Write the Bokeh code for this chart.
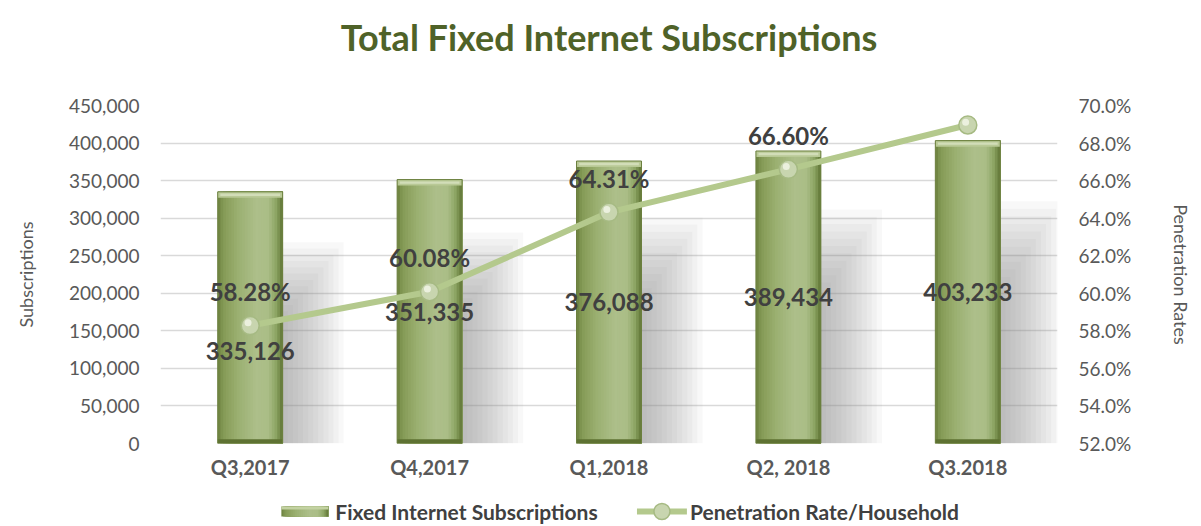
import numpy as np
from bokeh.plotting import figure
from bokeh.layouts import column
from bokeh.models import (Range1d, LinearAxis, FixedTicker, NumeralTickFormatter,
                          PrintfTickFormatter, ColumnDataSource)
from bokeh.core.properties import value
from bokeh.embed import file_html
from bokeh.resources import INLINE

title_text = "Total Fixed Internet Subscriptions"
categories = ["Q3,2017", "Q4,2017", "Q1,2018", "Q2, 2018", "Q3.2018"]
subscriptions = [335126, 351335, 376088, 389434, 403233]
penetration = [58.28, 60.08, 64.31, 66.60, 68.96]
sub_labels = ["335,126", "351,335", "376,088", "389,434", "403,233"]
pct_labels = ["58.28%", "60.08%", "64.31%", "66.60%", "68.96%"]
left_ticks = list(range(0, 450001, 50000))
right_ticks = [52, 54, 56, 58, 60, 62, 64, 66, 68, 70]
legend_labels = ["Fixed Internet Subscriptions", "Penetration Rate/Household"]

FONT = "Lato"
TXT = "#404040"
x = np.arange(len(categories))

W = 1195
FL, FR = 160, 1058          # frame left / right in page pixels

def strip_fig(h):
    f = figure(width=W, height=h, output_backend="svg", toolbar_location=None,
               x_range=Range1d(FL, FR), y_range=Range1d(0, h), min_border=0)
    f.axis.visible = False
    f.grid.visible = False
    f.outline_line_color = None
    f.background_fill_color = "white"
    f.border_fill_color = "white"
    return f

# ---- title strip
TH = 66
tf = strip_fig(TH)
tf.text(x=[(FL + FR) / 2], y=[TH - 36], text=[title_text], text_align="center",
        text_baseline="middle", text_font=value(FONT), text_font_size="36px",
        text_font_style="bold", text_color="#4f6228")

# ---- main chart
p = figure(width=W, height=432, output_backend="svg", toolbar_location=None,
           x_range=Range1d(-0.5, 4.5), y_range=Range1d(0, 450000),
           min_border_left=FL, min_border_right=W - FR, min_border_top=39, min_border_bottom=55)
p.outline_line_color = None
p.background_fill_color = "white"
p.border_fill_color = "white"

p.extra_y_ranges = {"pct": Range1d(52, 70)}

p.xgrid.visible = False
p.ygrid.ticker = FixedTicker(ticks=left_ticks)
p.ygrid.grid_line_color = "#d9d9d9"
p.ygrid.grid_line_width = 1.5

ax = p.yaxis[0]
ax.ticker = FixedTicker(ticks=left_ticks)
ax.formatter = NumeralTickFormatter(format="0,0")
ax.axis_line_color = None
ax.major_tick_line_color = None
ax.minor_tick_line_color = None
ax.major_label_text_font = FONT
ax.major_label_text_font_size = "19px"
ax.major_label_text_color = "#595959"
ax.major_label_standoff = 15
ax.axis_label = "Subscriptions"
ax.axis_label_text_font = FONT
ax.axis_label_text_font_size = "18px"
ax.axis_label_text_font_style = "normal"
ax.axis_label_text_color = "#595959"
ax.axis_label_standoff = 29

rax = LinearAxis(y_range_name="pct", ticker=FixedTicker(ticks=right_ticks),
                 formatter=PrintfTickFormatter(format="%.1f%%"))
rax.axis_line_color = None
rax.major_tick_line_color = None
rax.minor_tick_line_color = None
rax.major_label_text_font = FONT
rax.major_label_text_font_size = "19px"
rax.major_label_text_color = "#595959"
rax.major_label_standoff = 15
rax.axis_label = "Penetration Rates"
rax.axis_label_text_font = FONT
rax.axis_label_text_font_size = "18px"
rax.axis_label_text_font_style = "normal"
rax.axis_label_text_color = "#595959"
rax.axis_label_standoff = 36
p.add_layout(rax, "right")

xa = p.xaxis[0]
xa.ticker = FixedTicker(ticks=list(x))
xa.major_label_overrides = {int(i): c for i, c in zip(x, categories)}
xa.axis_line_color = None
xa.major_tick_line_color = None
xa.minor_tick_line_color = None
xa.major_label_text_font = FONT
xa.major_label_text_font_size = "20px"
xa.major_label_text_font_style = "bold"
xa.major_label_text_color = "#595959"
xa.major_label_standoff = 5

subs = np.array(subscriptions, dtype=float)
bw = 0.362

# shadows to the right of the bars
n_sh = 12
for k in range(n_sh):
    wd = 0.34 * (1 - k / n_sh)
    p.quad(left=x + bw / 2, right=x + bw / 2 + wd, bottom=0, top=subs * (0.80 - 0.025 * k),
           fill_color="#8c8c8c", fill_alpha=0.06, line_color=None)

# horizontal gradient colours for the bars
stops = [0.0, 0.08, 0.3, 0.6, 0.78, 0.9, 1.0]
stop_cols = ["#6a7f3c", "#849a55", "#9aaf70", "#adbf8a", "#aabd86", "#8ca463", "#5f7434"]
def hex2rgb(h):
    return np.array([int(h[i:i + 2], 16) for i in (1, 3, 5)], dtype=float)
rgb = np.array([hex2rgb(c) for c in stop_cols])
ns = 24
grad = []
for i in range(ns):
    t = (i + 0.5) / ns
    col = [np.interp(t, stops, rgb[:, j]) for j in range(3)]
    grad.append("#%02x%02x%02x" % tuple(int(round(v)) for v in col))

sw = bw / ns
for i, c in enumerate(grad):
    p.quad(left=x - bw / 2 + sw * i, right=x + bw / 2, top=subs, bottom=0,
           fill_color=c, line_color=None)
bev = 6 / 338 * 450000
p.vbar(x=x, width=bw, top=subs, bottom=subs - bev, fill_color="#b9c996", line_color=None)
p.vbar(x=x, width=bw * 0.92, top=subs - bev * 0.3, bottom=subs - bev * 0.7,
       fill_color="#d2ddb8", line_color=None)
p.vbar(x=x, width=bw, top=bev * 0.7, bottom=0, fill_color="#5e7232", line_color=None)
p.vbar(x=x, width=bw, top=subs, bottom=0, fill_color=None, line_color="#6b7f3e", line_width=1)

# penetration line
p.line(x, penetration, y_range_name="pct", line_color="#b4c98d", line_width=6)
p.scatter(x, penetration, y_range_name="pct", size=18, fill_color="#c8d5af",
          line_color="#a6ba83", line_width=1.5)
p.scatter(x - 0.012, np.array(penetration) + 0.15, y_range_name="pct", size=7,
          fill_color="#eef3e3", line_color=None, fill_alpha=0.9)

# data labels
lab_src = ColumnDataSource(dict(x=x, y=subs / 2, t=sub_labels, off=[33, 0, 0, 0, 0]))
p.text(x="x", y="y", text="t", y_offset="off", source=lab_src, text_align="center",
       text_baseline="middle", text_font=value(FONT), text_font_size="24px",
       text_font_style="bold", text_color=TXT)
pct_src = ColumnDataSource(dict(x=x, y=penetration, t=pct_labels))
p.text(x="x", y="y", text="t", source=pct_src, y_range_name="pct", y_offset=-34,
       text_align="center", text_baseline="middle", text_font=value(FONT),
       text_font_size="24px", text_font_style="bold", text_color=TXT)

# ---- legend strip
LH = 26
lg = strip_fig(LH)
cy = LH / 2
sx0, sx1 = 281, 328
for i, c in enumerate(grad):
    lg.quad(left=[sx0 + (sx1 - sx0) * i / ns], right=[sx1], top=[cy + 5], bottom=[cy - 5],
            fill_color=c, line_color=None)
lg.quad(left=[sx0], right=[sx1], top=[cy + 5], bottom=[cy + 2], fill_color="#c3d2a2", line_color=None)
lg.text(x=[sx1 + 7], y=[cy], text=[legend_labels[0]], text_align="left", text_baseline="middle",
        text_font=value(FONT), text_font_size="21px", text_font_style="bold", text_color=TXT)
lx0, lx1 = 637, 687
lg.line(x=[lx0, lx1], y=[cy, cy], line_color="#b4c98d", line_width=6)
lg.scatter(x=[(lx0 + lx1) / 2], y=[cy], size=16, fill_color="#c8d5af", line_color="#a6ba83",
           line_width=1.5)
lg.text(x=[lx1 + 3], y=[cy], text=[legend_labels[1]], text_align="left", text_baseline="middle",
        text_font=value(FONT), text_font_size="21px", text_font_style="bold", text_color=TXT)

layout = column(tf, p, lg, spacing=0)
open("out.html", "w").write(file_html(layout, INLINE))
